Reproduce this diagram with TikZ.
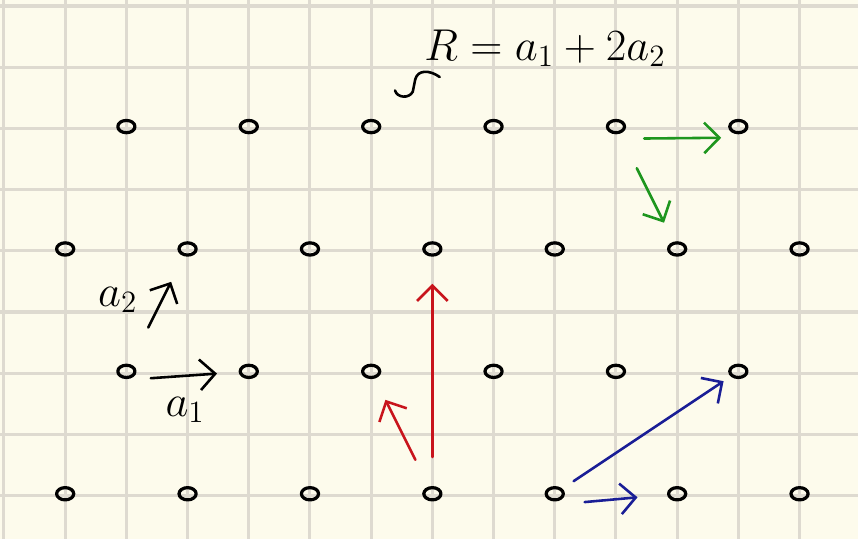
\documentclass[tikz,border=0pt]{standalone}
\usepackage{xcolor}
\usepackage{tikz}
\usetikzlibrary{arrows.meta,shapes.geometric}

\definecolor{paper}{HTML}{FDFBEC}
\definecolor{gridline}{HTML}{DEDAD0}
\definecolor{penred}{HTML}{C8141C}
\definecolor{penblue}{HTML}{1A1E96}
\definecolor{pengreen}{HTML}{1E961E}

\begin{document}
\begin{tikzpicture}[x=1cm, y=-1cm, line cap=round, line join=round,
    site/.style={draw, ellipse, inner sep=0pt, minimum width=0.28cm,
        minimum height=0.2cm, line width=1.5pt},
    pen/.style={line width=1.2pt,
        -{Straight Barb[length=2.5mm, width=5mm, line width=1.2pt]}},
    hand/.style={font=\fontsize{20}{24}\selectfont}]
    % paper and squares
    \fill[paper] (-0.065,-0.098) rectangle (13.955,8.709);
    \useasboundingbox (-0.065,-0.098) rectangle (13.955,8.709);
    \foreach \i in {0,...,13}
        \draw[gridline, line width=1.4pt] (\i,-0.098) -- (\i,8.709);
    \foreach \j in {0,...,8}
        \draw[gridline, line width=1.4pt] (-0.065,\j) -- (13.955,\j);
    % lattice sites
    \foreach \c in {2,4,...,12} {
        \node[site] (r1c\c) at (\c,1.97) {};
        \node[site] (r3c\c) at (\c,5.97) {};
    }
    \foreach \c in {1,3,...,13} {
        \node[site] (r2c\c) at (\c,3.97) {};
        \node[site] (r4c\c) at (\c,7.97) {};
    }
    % basis vectors
    \draw[pen, shorten <=0.4cm, shorten >=0.52cm] ([yshift=-0.14cm]r3c2.center) -- (r3c4.center);
    \node[hand] (la1) at (2.96,6.6) {$a_1$};
    \draw[pen, shorten <=0.8cm, shorten >=0.6cm] (r3c2.center) -- (r2c3.center);
    \node[hand] (la2) at (1.86,4.8) {$a_2$};
    % red
    \draw[pen, penred, shorten <=0.6cm, shorten >=0.57cm] (r4c7.center) -- (r2c7.center);
    \draw[pen, penred, shorten <=0.62cm, shorten >=0.52cm] (r4c7.center) -- (r3c6.center);
    % blue
    \draw[pen, penblue, shorten <=0.37cm, shorten >=0.29cm] (r4c9.center) -- (r3c12.center);
    \draw[pen, penblue, shorten <=0.49cm, shorten >=0.65cm] ([yshift=-0.18cm]r4c9.center) -- (r4c11.center);
    % green
    \draw[pen, pengreen, shorten <=0.46cm, shorten >=0.28cm] ([yshift=-0.2cm]r1c10.center) -- ([yshift=-0.18cm]r1c12.center);
    \draw[pen, pengreen, shorten <=0.76cm, shorten >=0.48cm] (r1c10.center) -- (r2c11.center);
    % R
    \node[hand] (eqR) at (8.84,0.69) {$R = a_1 + 2a_2$};
    \draw[line width=1.2pt] (7.12,1.16) .. controls (6.95,1.04) and (6.76,1.04) .. (6.72,1.2)
        -- (6.68,1.4) .. controls (6.62,1.52) and (6.42,1.5) .. (6.39,1.38);
\end{tikzpicture}
\end{document}
